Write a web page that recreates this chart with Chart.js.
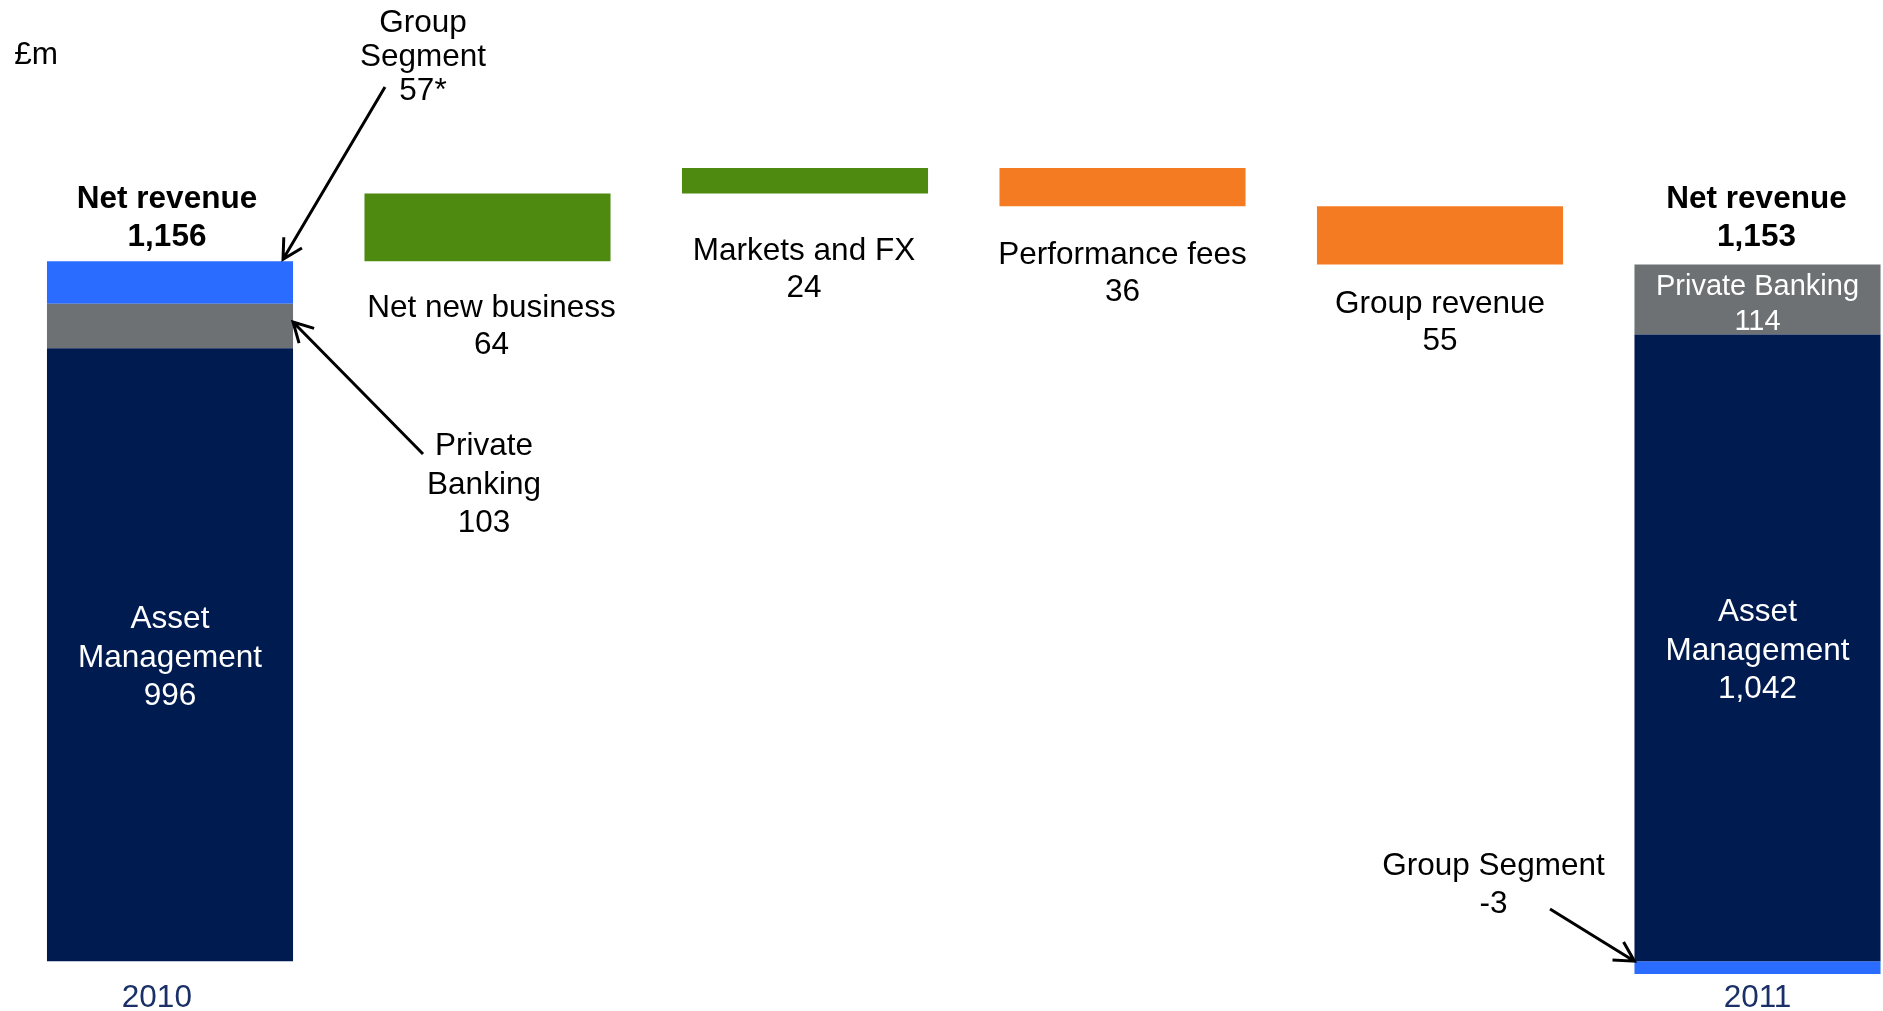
<!DOCTYPE html>
<html>
<head>
<meta charset="utf-8">
<title>Net revenue bridge 2010 - 2011</title>
<script src="https://cdn.jsdelivr.net/npm/chart.js@4.4.1/dist/chart.umd.min.js"></script>
<style>
  html, body { margin: 0; padding: 0; background: #fff; overflow: hidden; }
  #wrap { width: 1920px; height: 1011px; }
</style>
</head>
<body>
<div id="wrap"><canvas id="bridgeChart"></canvas></div>
<script>
// Net revenue bridge, £m
const categories = ['2010', 'Net new business', 'Markets and FX', 'Performance fees', 'Group revenue', '2011'];
const moves = [64, 24, -36, -55];
const netRevenue = [1156, 1153];
const assetManagement = ['996', '1,042'];
const privateBanking = ['103', '114'];
const groupSegment = ['57*', '-3'];

// the two total columns are drawn schematic in the source (broken axis),
// so their segment edges are read off the picture on the same £m axis
const axisBreak = 496;
const amTopDrawn = [1074, 1087];
const gsTopDrawn2010 = 1116;
const gsBottomDrawn2011 = 484;

const FONT = '"Liberation Sans", Arial, sans-serif';
const NAVY = '#001b50', GREY = '#6d7174', BLUE = '#2a6cff', GREEN = '#4f8a10', ORANGE = '#f57b22';
const DY = 2.5; // canvas 'middle' sits a bit high vs the slide text

// waterfall steps
let level = netRevenue[0];
const stepBars = moves.map(m => {
    const r = [level, level + m];
    level += m;
    return r;
});
const ups = [null, ...stepBars.map((r, i) => moves[i] > 0 ? r : null), null];
const downs = [null, ...stepBars.map((r, i) => moves[i] < 0 ? r : null), null];

const bar = (data, color) => ({
    data: data,
    backgroundColor: color,
    borderWidth: 0,
    grouped: false,
    barPercentage: 0.775,
    categoryPercentage: 1
});

function drawLines(ctx, texts, cx, cy, gap) {
    texts.forEach((t, k) => ctx.fillText(t, cx, cy + DY + (k - (texts.length - 1) / 2) * gap));
}

function arrow(ctx, x1, y1, x2, y2) {
    const a = Math.atan2(y2 - y1, x2 - x1);
    const len = 22, spread = 0.5;
    ctx.beginPath();
    ctx.moveTo(x1, y1);
    ctx.lineTo(x2, y2);
    ctx.moveTo(x2 - len * Math.cos(a - spread), y2 - len * Math.sin(a - spread));
    ctx.lineTo(x2, y2);
    ctx.lineTo(x2 - len * Math.cos(a + spread), y2 - len * Math.sin(a + spread));
    ctx.stroke();
}

const annotate = {
    id: 'annotate',
    afterDatasetsDraw(chart) {
        const { ctx, scales: { x, y } } = chart;
        const el = (ds, i) => chart.getDatasetMeta(ds).data[i];
        ctx.save();
        ctx.textAlign = 'center';
        ctx.textBaseline = 'middle';

        // net revenue headers
        ctx.fillStyle = '#000';
        ctx.font = 'bold 31.5px ' + FONT;
        const headY = y.getPixelForValue(netRevenue[0]) - 45;
        drawLines(ctx, ['Net revenue', netRevenue[0].toLocaleString('en-GB')], x.getPixelForValue(0) - 3, headY, 38);
        drawLines(ctx, ['Net revenue', netRevenue[1].toLocaleString('en-GB')], x.getPixelForValue(5) - 1, headY, 38);

        // step labels below each floating bar
        ctx.font = '31.5px ' + FONT;
        const labelGap = [45, 56, 47, 38];
        const labelDx = [4, -1, 0, 0];
        stepBars.forEach((r, i) => {
            const bottom = y.getPixelForValue(Math.min(r[0], r[1]));
            drawLines(ctx, [categories[i + 1], String(Math.abs(moves[i]))],
                x.getPixelForValue(i + 1) + labelDx[i], bottom + labelGap[i] + 18, 36.5);
        });

        // unit
        ctx.textAlign = 'left';
        ctx.fillText('£m', chart.chartArea.left + 3, 53 + DY);
        ctx.textAlign = 'center';

        // text inside the total columns
        ctx.fillStyle = '#fff';
        [0, 5].forEach((i, k) => {
            const e = el(0, i);
            drawLines(ctx, ['Asset', 'Management', assetManagement[k]], e.x, (e.y + e.base) / 2 + 1, 38.5);
        });
        ctx.font = '29px ' + FONT;
        const pb = el(1, 5);
        drawLines(ctx, ['Private Banking', privateBanking[1]], pb.x, (pb.y + pb.base) / 2 + 3, 35);

        // callouts with arrows
        ctx.fillStyle = '#000';
        ctx.strokeStyle = '#000';
        ctx.lineWidth = 3;
        ctx.font = '31.5px ' + FONT;
        const b0 = el(2, 0), g0 = el(1, 0), n5 = el(0, 5);
        const right0 = b0.x + b0.width / 2;

        drawLines(ctx, ['Group', 'Segment', groupSegment[0]], b0.x + 253, 55, 33.7);
        arrow(ctx, 385, 87, right0 - 10, b0.y - 2);

        drawLines(ctx, ['Private', 'Banking', privateBanking[0]], g0.x + 314, 482.5, 38.5);
        arrow(ctx, 423, 454, right0, (g0.y + g0.base) / 2 - 4);

        drawLines(ctx, ['Group Segment', groupSegment[1]], n5.x - 264, 883, 38.5);
        arrow(ctx, 1550, 909, n5.x - n5.width / 2, y.getPixelForValue(axisBreak));

        ctx.restore();
    }
};

new Chart(document.getElementById('bridgeChart').getContext('2d'), {
    type: 'bar',
    data: {
        labels: categories,
        datasets: [
            bar([[axisBreak, amTopDrawn[0]], null, null, null, null, [axisBreak, amTopDrawn[1]]], NAVY),
            bar([[amTopDrawn[0], gsTopDrawn2010], null, null, null, null, [amTopDrawn[1], netRevenue[1]]], GREY),
            bar([[gsTopDrawn2010, netRevenue[0]], null, null, null, null, [gsBottomDrawn2011, axisBreak]], BLUE),
            bar(ups, GREEN),
            bar(downs, ORANGE)
        ]
    },
    options: {
        responsive: true,
        maintainAspectRatio: false,
        animation: false,
        layout: { padding: { left: 11.25, right: 3.75, top: 0, bottom: 0 } },
        plugins: { legend: { display: false }, tooltip: { enabled: false } },
        scales: {
            x: {
                grid: { display: false, drawTicks: false },
                border: { display: false },
                ticks: {
                    color: '#1b3068',
                    padding: 0,
                    autoSkip: false,
                    maxRotation: 0,
                    font: { family: FONT, size: 31.5, lineHeight: 0.825 },
                    // the 2010 label sits a little left of its column in the source
                    callback: (v, i) => i === 0 ? categories[0] + '   ' : i === categories.length - 1 ? categories[i] : ''
                }
            },
            y: { display: false, min: 473.5, max: 1402.4 }
        }
    },
    plugins: [annotate]
});
</script>
</body>
</html>
